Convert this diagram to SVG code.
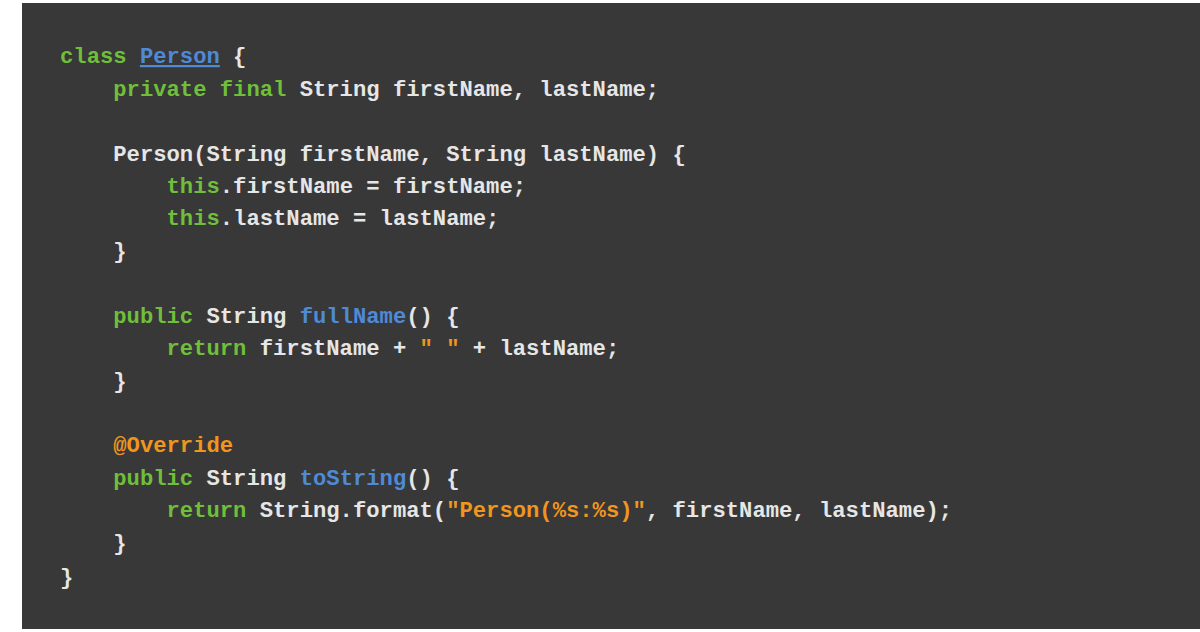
<svg xmlns="http://www.w3.org/2000/svg" width="1200" height="632" viewBox="0 0 1200 632">
<style>
text{font-family:"Liberation Mono","DejaVu Sans Mono",monospace;font-size:22.2px;font-weight:bold;fill:#e6e6e6;white-space:pre}
.k{fill:#6fbf3a}.b{fill:#4f8ad6}.o{fill:#f0961e}
</style>
<rect width="1200" height="632" fill="#fff"/>
<rect x="22" y="3" width="1178" height="626" fill="#383838"/>
<g id="code" xml:space="preserve">
<text x="60" y="63"><tspan class="k">class</tspan> <tspan class="b" text-decoration="underline">Person</tspan> {</text>
<text x="60" y="96">    <tspan class="k">private final</tspan> String firstName, lastName;</text>
<text x="60" y="161">    Person(String firstName, String lastName) {</text>
<text x="60" y="193">        <tspan class="k">this</tspan>.firstName = firstName;</text>
<text x="60" y="225">        <tspan class="k">this</tspan>.lastName = lastName;</text>
<text x="60" y="258">    }</text>
<text x="60" y="323">    <tspan class="k">public</tspan> String <tspan class="b">fullName</tspan>() {</text>
<text x="60" y="355">        <tspan class="k">return</tspan> firstName + <tspan class="o">" "</tspan> + lastName;</text>
<text x="60" y="388">    }</text>
<text x="60" y="452">    <tspan class="o">@Override</tspan></text>
<text x="60" y="485">    <tspan class="k">public</tspan> String <tspan class="b">toString</tspan>() {</text>
<text x="60" y="517">        <tspan class="k">return</tspan> String.format(<tspan class="o">"Person(%s:%s)"</tspan>, firstName, lastName);</text>
<text x="60" y="550">    }</text>
<text x="60" y="584">}</text>
</g>
</svg>
